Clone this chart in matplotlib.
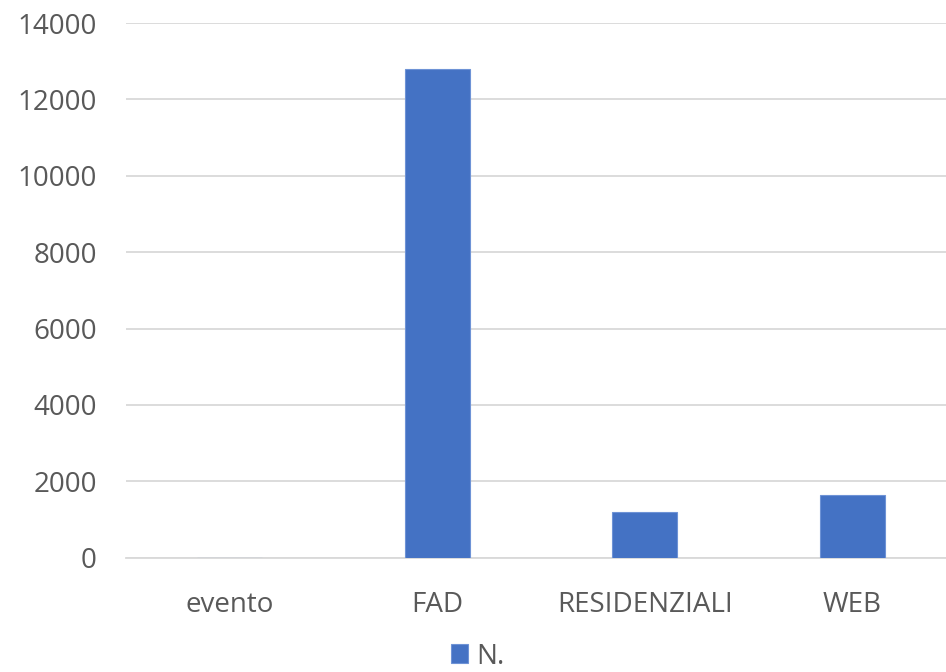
import matplotlib
matplotlib.use("Agg")
from matplotlib import pyplot as plt
import numpy as np

categories = ["evento", "FAD", "RESIDENZIALI", "WEB"]
values = [0, 12790, 1190, 1635]
series_name = "N."
yticks = [0, 2000, 4000, 6000, 8000, 10000, 12000, 14000]

bar_color = "#4472C4"
text_color = "#595959"
grid_color = "#D9D9D9"

plt.rcParams["font.family"] = ["Open Sans", "DejaVu Sans"]

fig = plt.figure(figsize=(9.46, 6.72), dpi=100)
# plot area runs a little past the right edge, as in the cropped original
ax = fig.add_axes([126 / 946, (672 - 557.7) / 672, 830 / 946, (557.7 - 23) / 672])

x = np.arange(len(categories))
ax.bar(x, values, width=0.315, color=bar_color, edgecolor="#6E93D6",
       linewidth=0.8, label=series_name, zorder=3)

ax.set_xlim(-0.5, len(categories) - 0.5)
ax.set_ylim(0, 14000)
ax.set_yticks(yticks)
ax.set_xticks(x)
ax.set_xticklabels(categories)

ax.grid(axis="y", color=grid_color, linewidth=1.3, zorder=0)
ax.set_axisbelow(True)
for s in ["top", "right", "left"]:
    ax.spines[s].set_visible(False)
ax.spines["bottom"].set_color(grid_color)
ax.spines["bottom"].set_linewidth(1.3)

ax.tick_params(axis="both", length=0, labelsize=20, labelcolor=text_color)
ax.tick_params(axis="y", pad=21)
ax.tick_params(axis="x", pad=24)

fig.legend(loc="lower center", bbox_to_anchor=(0.505, -0.035), frameon=False,
           fontsize=20, labelcolor=text_color, handlelength=0.6,
           handleheight=0.65, handletextpad=0.3)

fig.savefig("out.png", dpi=100)
